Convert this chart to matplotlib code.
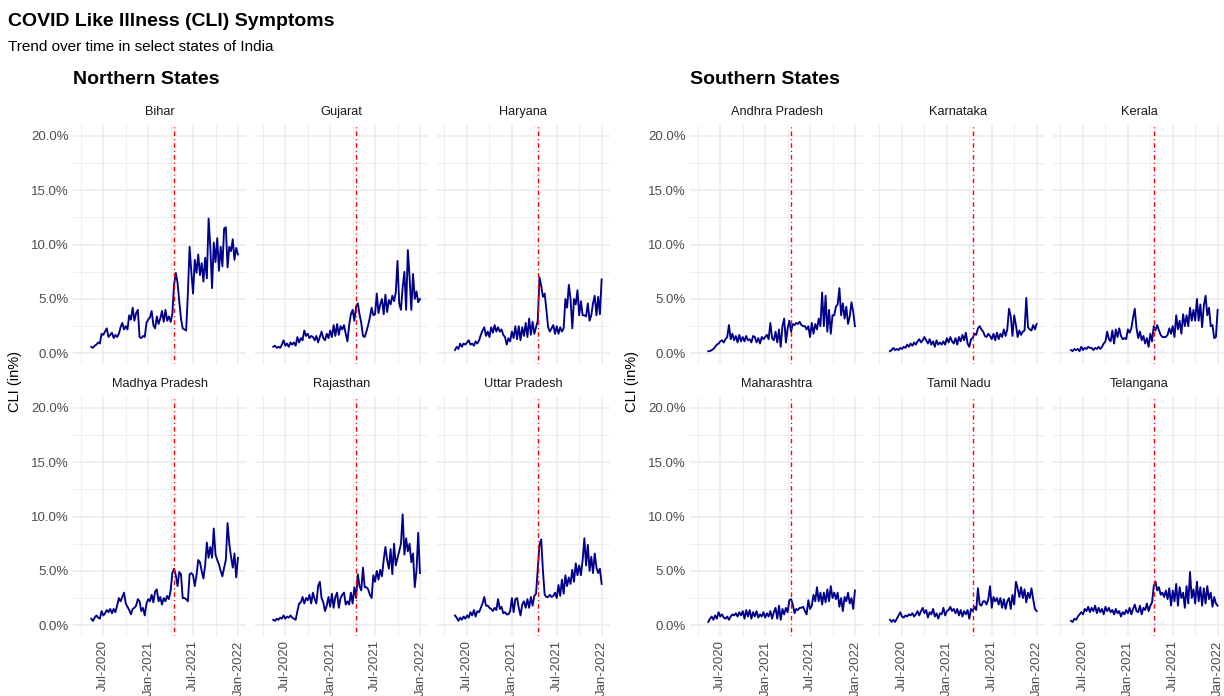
import numpy as np
import pandas as pd
import matplotlib
matplotlib.use("Agg")
import matplotlib.pyplot as plt
import matplotlib.dates as mdates
from matplotlib.ticker import FuncFormatter, FixedLocator

plt.rcParams['font.family'] = ['Liberation Sans', 'DejaVu Sans']

# Weekly CLI share (%) per state
dates = pd.date_range('2020-05-14', periods=86, freq='7D')
policy_date = pd.Timestamp('2021-04-15')

bihar = [0.6, 0.5, 0.7, 0.8, 1.0, 0.9, 1.8, 1.7, 2.0, 2.3,
         1.5, 1.7, 1.9, 1.4, 1.7, 1.5, 1.8, 2.4, 2.8, 2.2,
         2.5, 2.2, 3.5, 3.1, 4.2, 3.0, 3.7, 4.0, 1.5, 1.4,
         1.6, 1.5, 2.8, 3.1, 3.3, 3.9, 2.6, 2.3, 3.4, 2.7,
         3.2, 3.9, 2.9, 4.0, 3.0, 3.4, 2.9, 3.6, 6.3, 7.4,
         6.5, 4.8, 3.2, 2.3, 2.2, 2.1, 5.5, 9.8, 7.5, 5.5,
         8.6, 7.4, 9.1, 7.2, 8.3, 6.6, 8.8, 6.9, 12.4, 9.8,
         6.0, 10.2, 8.4, 10.6, 7.6, 9.8, 8.0, 11.5, 11.6, 7.9,
         9.8, 9.4, 10.5, 8.6, 9.7, 9.1]
gujarat = [0.6, 0.7, 0.5, 0.6, 0.5, 0.8, 1.2, 0.7, 0.9, 0.6,
           1.0, 0.8, 1.0, 0.7, 1.5, 1.0, 1.4, 1.2, 2.1, 1.6,
           1.8, 1.4, 1.6, 1.5, 1.2, 1.6, 1.0, 1.5, 2.0, 1.4,
           1.2, 1.8, 1.4, 2.1, 1.5, 2.6, 1.6, 2.7, 1.7, 2.5,
           2.2, 2.6, 1.8, 1.1, 2.6, 3.6, 4.0, 3.0, 4.3, 4.6,
           3.6, 2.8, 1.6, 1.5, 2.0, 2.6, 3.3, 4.2, 3.5, 3.6,
           5.5, 3.7, 4.5, 5.0, 3.6, 5.4, 3.8, 4.9, 4.5, 5.3,
           4.8, 5.6, 8.5, 4.6, 4.0, 6.1, 7.5, 4.0, 9.5, 7.0,
           4.0, 7.3, 5.0, 5.7, 4.7, 5.0]
haryana = [0.3, 0.6, 0.4, 0.9, 0.6, 0.9, 0.8, 1.0, 1.2, 0.8,
           0.9, 0.7, 1.1, 0.9, 1.2, 1.7, 2.1, 2.4, 1.6, 2.0,
           1.5, 2.4, 1.9, 2.6, 2.0, 2.4, 2.0, 2.2, 1.7, 1.5,
           0.8, 1.4, 1.1, 2.0, 1.4, 2.5, 1.3, 2.5, 1.2, 2.4,
           1.6, 2.8, 1.5, 3.2, 1.7, 2.9, 1.8, 2.4, 3.0, 7.0,
           6.2, 5.2, 5.5, 4.0, 2.4, 2.0, 2.3, 2.6, 1.8, 2.5,
           1.8, 2.4, 2.0, 2.3, 5.0, 4.2, 6.3, 5.0, 2.3, 5.0,
           4.5, 5.8, 3.5, 4.8, 3.5, 3.5, 3.4, 4.6, 3.0, 3.5,
           4.6, 5.3, 3.5, 5.2, 3.6, 6.8]
madhya_pradesh = [0.6, 0.4, 0.7, 0.9, 0.7, 0.6, 1.3, 0.9, 1.1, 1.4,
                  1.2, 1.5, 1.1, 1.5, 1.2, 1.8, 2.5, 2.2, 2.6, 3.0,
                  2.0, 1.7, 1.4, 1.0, 1.5, 1.6, 1.8, 2.4, 2.2, 1.3,
                  1.6, 0.9, 2.0, 2.4, 2.2, 2.8, 2.1, 3.1, 3.3, 2.2,
                  2.6, 1.9, 2.5, 2.2, 2.7, 2.4, 3.2, 4.8, 5.2, 4.6,
                  3.6, 4.9, 4.7, 2.5, 2.5, 2.4, 2.2, 4.7, 4.8, 4.6,
                  3.6, 4.6, 6.0, 5.8, 5.0, 4.3, 5.5, 7.6, 6.2, 7.2,
                  6.2, 8.9, 6.5, 6.0, 5.6, 5.0, 4.5, 5.3, 6.0, 9.4,
                  7.5, 6.3, 5.3, 6.6, 4.4, 6.2]
rajasthan = [0.5, 0.4, 0.6, 0.5, 0.7, 0.6, 0.9, 0.6, 0.8, 0.7,
             0.9, 0.7, 0.6, 0.5, 1.3, 2.0, 2.1, 2.6, 2.0, 2.5,
             2.3, 2.8, 2.0, 3.0, 2.4, 2.0, 3.6, 4.0, 2.5, 2.1,
             1.3, 1.8, 2.6, 1.7, 2.9, 1.6, 2.6, 3.0, 1.6, 2.5,
             2.8, 3.0, 1.9, 2.2, 1.9, 3.0, 2.0, 3.5, 2.5, 4.7,
             3.6, 3.2, 5.3, 3.5, 3.5, 3.3, 2.8, 2.5, 4.6, 4.0,
             5.0, 4.2, 5.1, 4.5, 6.0, 7.2, 6.0, 5.2, 7.0, 4.7,
             7.5, 5.5, 6.2, 6.8, 7.5, 10.2, 6.5, 8.0, 6.8, 7.5,
             5.8, 6.6, 3.5, 5.0, 8.5, 4.8]
uttar_pradesh = [0.9, 0.7, 0.4, 0.7, 0.5, 0.8, 0.6, 0.9, 0.7, 1.2,
                 0.9, 1.4, 0.8, 1.3, 1.2, 1.6, 2.0, 2.6, 1.8, 1.8,
                 1.6, 1.5, 1.3, 1.6, 1.4, 2.4, 1.5, 1.7, 1.1, 1.2,
                 1.0, 1.0, 1.3, 2.5, 1.2, 2.4, 2.5, 1.6, 0.9, 1.9,
                 2.2, 1.6, 2.4, 1.6, 2.6, 1.8, 2.7, 2.9, 5.2, 7.4,
                 7.9, 5.0, 2.8, 2.6, 2.6, 2.8, 2.6, 2.7, 3.0, 2.5,
                 3.7, 2.7, 4.2, 2.9, 4.6, 3.6, 4.4, 3.8, 5.1, 4.0,
                 5.7, 4.6, 5.5, 4.6, 6.0, 8.0, 5.5, 7.4, 5.0, 6.3,
                 4.8, 6.6, 5.3, 4.8, 5.2, 3.8]
andhra_pradesh = [0.2, 0.2, 0.3, 0.4, 0.6, 0.8, 0.9, 1.1, 1.2, 1.0,
                  1.3, 1.5, 2.6, 1.3, 1.8, 1.2, 1.6, 1.0, 1.7, 1.1,
                  1.5, 1.1, 1.6, 1.2, 1.3, 1.0, 1.6, 1.5, 1.0, 1.4,
                  0.9, 1.5, 1.3, 1.5, 1.7, 1.3, 2.8, 1.4, 1.2, 2.0,
                  1.0, 2.2, 0.6, 2.5, 3.2, 1.0, 2.3, 3.0, 2.0, 2.7,
                  2.6, 2.8, 2.7, 2.9, 2.6, 2.5, 2.5, 2.2, 2.5, 1.5,
                  2.8, 1.8, 2.7, 2.2, 3.2, 2.5, 5.6, 2.5, 5.3, 2.0,
                  4.0, 1.8, 3.5, 3.5, 4.3, 4.5, 6.0, 3.5, 4.6, 3.2,
                  4.3, 2.7, 3.4, 4.7, 3.8, 2.5]
karnataka = [0.2, 0.3, 0.5, 0.3, 0.4, 0.3, 0.5, 0.4, 0.6, 0.5,
             0.8, 0.6, 0.9, 0.7, 1.0, 0.8, 1.1, 1.3, 1.0, 1.2,
             1.5, 1.2, 0.9, 1.3, 0.8, 1.1, 0.6, 1.2, 0.8, 1.0,
             0.8, 1.1, 0.8, 1.4, 1.0, 1.5, 1.1, 0.9, 1.4, 0.8,
             1.5, 1.1, 1.7, 1.2, 1.9, 0.9, 0.6, 1.3, 1.4, 1.8,
             1.7, 2.3, 2.5, 2.2, 2.0, 1.6, 1.5, 1.8, 1.6, 1.3,
             1.8, 1.2, 1.9, 1.3, 1.8, 1.5, 2.2, 1.6, 2.2, 4.1,
             3.4, 1.6, 3.5, 2.6, 1.5, 2.1, 1.7, 2.0, 2.1, 5.1,
             2.4, 2.2, 2.1, 2.6, 2.2, 2.7]
kerala = [0.3, 0.2, 0.4, 0.3, 0.4, 0.2, 0.6, 0.3, 0.5, 0.4,
          0.6, 0.5, 0.5, 0.3, 0.5, 0.4, 0.6, 0.4, 0.6, 0.9,
          1.1, 2.0, 1.3, 1.1, 2.1, 0.9, 2.2, 1.5, 2.3, 1.6,
          1.3, 1.4, 1.3, 2.2, 1.9, 2.3, 3.3, 4.1, 2.3, 1.4,
          2.0, 1.2, 1.6, 0.9, 1.4, 0.6, 1.8, 1.1, 2.5, 2.1,
          2.6, 2.1, 1.7, 1.5, 1.5, 1.5, 1.7, 2.3, 1.8, 2.5,
          1.5, 3.5, 2.2, 3.0, 1.8, 3.6, 2.5, 3.5, 2.5, 4.2,
          3.0, 4.0, 3.0, 5.0, 3.0, 4.5, 2.4, 4.4, 5.3, 3.5,
          4.2, 2.5, 2.6, 1.4, 1.5, 4.0]
maharashtra = [0.3, 0.6, 0.8, 0.5, 0.9, 0.6, 1.2, 0.8, 1.0, 0.7,
               0.6, 0.8, 0.5, 0.8, 1.0, 0.9, 1.1, 0.8, 1.2, 0.9,
               1.3, 0.6, 1.4, 0.8, 1.4, 0.6, 1.2, 0.8, 1.3, 0.7,
               1.0, 0.8, 1.2, 0.7, 1.1, 0.8, 1.3, 0.6, 1.2, 1.6,
               0.6, 1.8, 0.5, 1.5, 1.0, 1.6, 1.2, 2.3, 2.4, 1.9,
               1.1, 1.5, 1.4, 1.6, 1.6, 1.7, 1.3, 1.0, 2.3, 1.5,
               1.8, 2.8, 2.2, 3.5, 2.2, 3.0, 1.9, 3.0, 2.1, 3.3,
               2.2, 3.6, 2.5, 3.0, 2.4, 3.0, 1.7, 2.5, 1.3, 2.6,
               2.2, 3.0, 2.0, 2.5, 1.5, 3.2]
tamil_nadu = [0.5, 0.3, 0.5, 0.3, 0.6, 0.9, 1.2, 0.8, 0.7, 0.9,
              0.8, 1.0, 0.9, 1.1, 0.8, 1.0, 1.3, 0.9, 1.3, 1.6,
              1.1, 1.4, 0.7, 1.2, 1.0, 1.5, 0.8, 1.1, 0.6, 1.1,
              1.0, 1.6, 0.9, 1.3, 1.4, 1.7, 1.3, 1.5, 1.1, 1.5,
              0.9, 1.4, 0.8, 1.3, 1.0, 1.4, 0.6, 1.5, 1.3, 1.7,
              1.4, 3.4, 1.9, 1.8, 2.2, 2.2, 1.9, 2.4, 3.6, 1.6,
              2.6, 2.2, 2.5, 1.9, 2.5, 1.6, 2.4, 1.5, 2.2, 2.5,
              1.5, 2.8, 1.9, 4.0, 3.4, 2.6, 3.5, 2.5, 3.3, 2.1,
              3.0, 2.5, 3.4, 2.4, 1.5, 1.3]
telangana = [0.4, 0.3, 0.6, 0.5, 0.8, 1.0, 1.2, 1.0, 1.5, 1.3,
             1.7, 1.2, 1.6, 1.3, 1.8, 1.1, 1.6, 1.2, 1.5, 1.0,
             1.7, 1.3, 1.6, 1.2, 1.4, 1.0, 1.5, 1.1, 1.3, 0.8,
             1.2, 1.0, 1.4, 1.1, 1.6, 1.0, 1.5, 1.9, 1.3, 1.2,
             1.8, 1.0, 1.6, 1.4, 2.0, 1.3, 1.8, 2.1, 3.6, 4.0,
             3.2, 3.5, 2.8, 3.0, 2.6, 3.2, 2.4, 3.4, 1.8, 3.2,
             2.2, 3.8, 1.8, 3.5, 2.5, 3.0, 1.6, 3.6, 2.0, 4.9,
             2.5, 3.3, 2.0, 4.0, 2.2, 3.5, 1.8, 3.4, 2.0, 3.6,
             2.4, 3.0, 1.7, 2.6, 2.0, 1.8]

north_names = ['Bihar', 'Gujarat', 'Haryana',
               'Madhya Pradesh', 'Rajasthan', 'Uttar Pradesh']
north_values = [bihar, gujarat, haryana, madhya_pradesh, rajasthan, uttar_pradesh]
south_names = ['Andhra Pradesh', 'Karnataka', 'Kerala',
               'Maharashtra', 'Tamil Nadu', 'Telangana']
south_values = [andhra_pradesh, karnataka, kerala, maharashtra, tamil_nadu, telangana]

x_major = pd.to_datetime(['2020-07-01', '2021-01-01', '2021-07-01', '2022-01-01'])
x_minor = pd.to_datetime(['2020-04-01', '2020-10-01', '2021-04-01', '2021-10-01'])
y_major = [0, 5, 10, 15, 20]
y_minor = [2.5, 7.5, 12.5, 17.5]

# figure layout in pixels
W, H = 1224, 696
fig = plt.figure(figsize=(W / 100, H / 100), dpi=100)
fig.patch.set_facecolor('white')

panel_w, panel_h = 173.3, 239.1
group_lefts = {'north': [73.0, 255.0, 436.7], 'south': [690.0, 871.7, 1052.7]}
row_tops = [125.1, 397.0]

grid_col = '#EBEBEB'
txt_col = '#4D4D4D'

# x-limits: data span (with a leading gap) expanded by 5%
span_lo = pd.Timestamp('2020-04-02')
span_hi = pd.Timestamp('2022-01-01')
pad = (span_hi - span_lo) * 0.05
xlo, xhi = span_lo - pad, span_hi + pad


def draw_group(key, names, values):
    for k, (name, vals) in enumerate(zip(names, values)):
        r, c = divmod(k, 3)
        left = group_lefts[key][c]
        top = row_tops[r]
        ax = fig.add_axes([left / W, 1 - (top + panel_h) / H, panel_w / W, panel_h / H])
        ax.set_facecolor('white')
        for s in ax.spines.values():
            s.set_visible(False)
        ax.set_xlim(xlo, xhi)
        ax.set_ylim(-1, 21)
        ax.xaxis.set_major_locator(FixedLocator(mdates.date2num(x_major)))
        ax.xaxis.set_minor_locator(FixedLocator(mdates.date2num(x_minor)))
        ax.yaxis.set_major_locator(FixedLocator(y_major))
        ax.yaxis.set_minor_locator(FixedLocator(y_minor))
        ax.grid(which='major', color=grid_col, lw=1.1, zorder=0)
        ax.grid(which='minor', color=grid_col, lw=0.6, zorder=0)
        ax.set_axisbelow(True)
        ax.tick_params(which='both', length=0)
        ax.tick_params(axis='both', labelsize=9.5, labelcolor=txt_col, pad=3)

        if c == 0:
            ax.yaxis.set_major_formatter(FuncFormatter(lambda v, p: f'{v:.1f}%'))
        else:
            ax.set_yticklabels([])
        if r == 1:
            ax.xaxis.set_major_formatter(mdates.DateFormatter('%b-%Y'))
            for lab in ax.get_xticklabels():
                lab.set_rotation(90)
                lab.set_ha('center')
                lab.set_va('top')
        else:
            ax.set_xticklabels([])

        ax.plot(dates, vals, color='#00008B', lw=1.35, zorder=3)
        ax.axvline(policy_date, color='red', lw=1.0,
                   linestyle=(0, (0.8, 2.2, 3.3, 2.2)), zorder=4)
        ax.text(0.5, 1 + 13 / panel_h, name, transform=ax.transAxes,
                ha='center', va='center', fontsize=9.2, color='#1A1A1A')


draw_group('north', north_names, north_values)
draw_group('south', south_names, south_values)

fig.text(8 / W, 1 - 21 / H, 'COVID Like Illness (CLI) Symptoms',
         fontsize=14, fontweight='bold', ha='left', va='center')
fig.text(8 / W, 1 - 47 / H, 'Trend over time in select states of India',
         fontsize=11, ha='left', va='center')
fig.text(73 / W, 1 - 80 / H, 'Northern States',
         fontsize=14, fontweight='bold', ha='left', va='center')
fig.text(690 / W, 1 - 80 / H, 'Southern States',
         fontsize=14, fontweight='bold', ha='left', va='center')
for xp in (15, 632):
    fig.text(xp / W, 1 - 381 / H, 'CLI (in%)', rotation=90,
             fontsize=10.5, ha='center', va='center')

fig.savefig('out.png', dpi=100, facecolor='white')
